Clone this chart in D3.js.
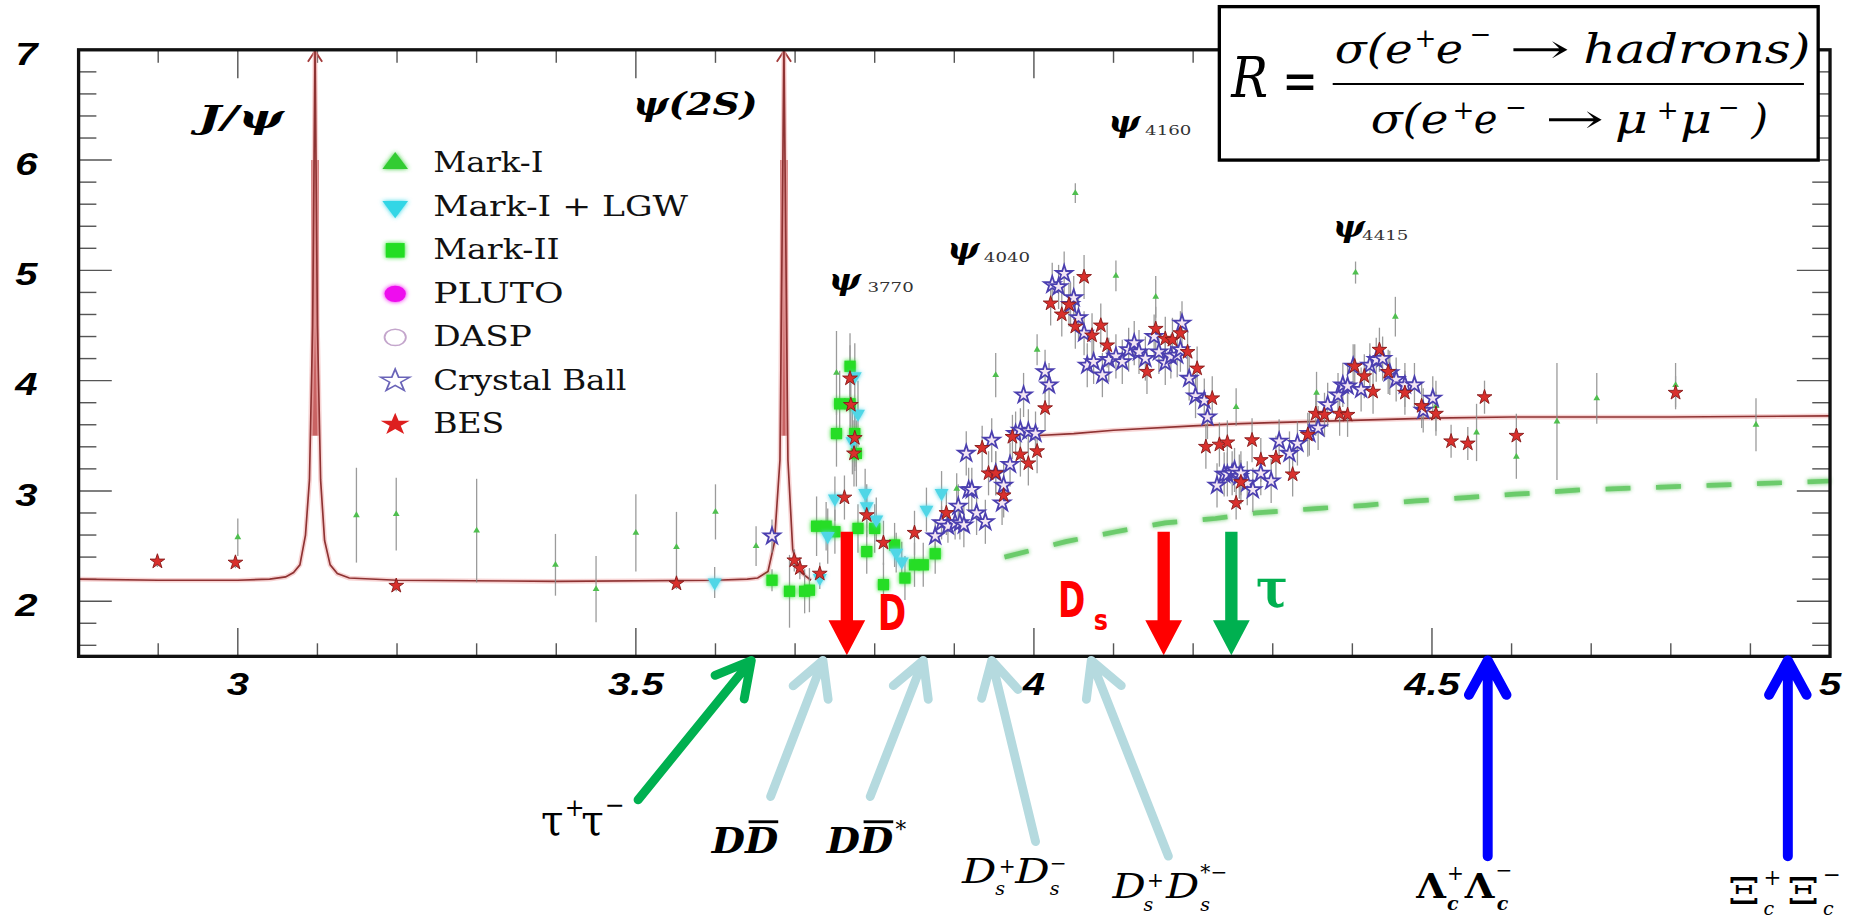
<!DOCTYPE html>
<html>
<head>
<meta charset="utf-8">
<script src="https://cdn.jsdelivr.net/npm/d3@7"></script>
<style>
html, body { margin: 0; padding: 0; background: #fff; overflow: hidden; }
</style>
</head>
<body>
<div id="chart"></div>
<script>
// ---- data (E in GeV, R) ----
const xTickLabels = [3, 3.5, 4, 4.5, 5];
const yTickLabels = [2, 3, 4, 5, 6, 7];

// theory curve, below and above the open charm region
const curveLow = [[2.80,2.20],[2.90,2.19],[3.00,2.19],[3.04,2.20],[3.06,2.22],[3.07,2.26],[3.078,2.33],[3.085,2.60],
  [3.090,3.10],[3.094,4.50],[3.097,7.00],[3.100,4.50],[3.104,3.10],[3.109,2.55],[3.116,2.33],[3.125,2.25],
  [3.14,2.21],[3.20,2.19],[3.40,2.18],[3.60,2.19],[3.64,2.20],[3.653,2.21],[3.666,2.27],[3.674,2.53],
  [3.681,3.28],[3.686,7.00],[3.691,3.28],[3.697,2.47],[3.704,2.28],[3.720,2.19]];
const curveHigh = [[4.00,3.50],[4.05,3.52],[4.10,3.55],[4.20,3.59],[4.26,3.61],[4.30,3.62],[4.40,3.64],
  [4.50,3.66],[4.60,3.67],[4.70,3.67],[4.80,3.67],[5.00,3.68]];
const peakE = [3.097, 3.686];
const peakBand = [3.5, 6.0];

// parton level expectation (dashed)
const dashLow = [[2.80,2.00],[3.67,2.00]];
const dashHigh = [[3.963,2.40],[4.04,2.54],[4.103,2.63],[4.165,2.71],[4.228,2.75],[4.279,2.80],[4.354,2.84],
  [4.417,2.87],[4.48,2.91],[4.543,2.94],[4.604,2.97],[4.689,3.01],[4.848,3.05],[5.00,3.09]];

// [E, R, error]
const markI = [[3.0,2.58,0.17],[3.149,2.78,0.43],[3.199,2.79,0.33],[3.30,2.64,0.47],[3.399,2.33,0.28],
  [3.45,2.11,0.30],[3.50,2.62,0.35],[3.551,2.49,0.32],[3.600,2.81,0.25],[3.651,2.50,0.18],[3.752,4.07,0.38],
  [3.903,3.02,0.14],[3.952,4.05,0.20],[4.004,4.28,0.14],[4.052,5.70,0.09],[4.103,4.95,0.14],[4.153,4.76,0.19],
  [4.254,3.76,0.17],[4.355,3.89,0.19],[4.404,4.98,0.10],[4.454,4.58,0.18],[4.505,3.77,0.23],[4.556,3.53,0.26],
  [4.606,3.31,0.20],[4.657,3.63,0.53],[4.707,3.84,0.23],[4.806,3.96,0.20],[4.907,3.60,0.24]];

const markILGW = [[3.599,2.17,0.14],[3.731,2.21,0.10],[3.741,2.59,0.25],[3.750,2.93,0.20],[3.772,3.45,0.30],
  [3.775,4.04,0.30],[3.779,3.70,0.30],[3.788,2.98,0.22],[3.790,2.86,0.20],[3.802,2.74,0.20],[3.827,2.44,0.18],
  [3.834,2.36,0.18],[3.865,2.83,0.20],[3.884,2.98,0.20]];

const markII = [[3.671,2.19,0.10],[3.693,2.09,0.33],[3.712,2.09,0.20],[3.718,2.10,0.20],[3.727,2.68,0.27],
  [3.739,2.68,0.22],[3.750,2.63,0.20],[3.752,3.52,0.30],[3.756,3.79,0.30],[3.769,4.13,0.30],[3.769,3.79,0.30],
  [3.775,3.52,0.30],[3.777,3.34,0.30],[3.779,2.66,0.22],[3.790,2.45,0.20],[3.800,2.66,0.22],[3.811,2.15,0.20],
  [3.825,2.51,0.20],[3.838,2.21,0.20],[3.850,2.33,0.20],[3.861,2.33,0.20],[3.876,2.43,0.18]];

const crystalBall = [[3.671,2.59,0.15],[3.876,2.59,0.15],[3.884,2.71,0.15],[3.892,2.68,0.15],[3.901,2.71,0.15],
  [3.905,2.86,0.20],[3.907,2.71,0.15],[3.912,2.69,0.20],[3.915,3.34,0.20],[3.918,3.01,0.20],[3.922,3.01,0.20],
  [3.928,2.80,0.20],[3.939,2.72,0.20],[3.947,3.46,0.20],[3.952,3.16,0.20],[3.960,2.89,0.20],[3.962,3.05,0.20],
  [3.970,3.24,0.20],[3.977,3.52,0.20],[3.983,3.55,0.20],[3.987,3.87,0.20],[3.993,3.54,0.20],[4.002,3.52,0.20],
  [4.014,4.08,0.20],[4.019,3.96,0.20],[4.023,4.87,0.20],[4.031,4.85,0.20],[4.038,4.97,0.20],[4.046,4.69,0.20],
  [4.050,4.75,0.20],[4.056,4.57,0.20],[4.063,4.43,0.20],[4.067,4.14,0.20],[4.075,4.17,0.20],[4.086,4.05,0.20],
  [4.094,4.19,0.20],[4.103,4.22,0.20],[4.111,4.17,0.20],[4.119,4.28,0.20],[4.126,4.34,0.20],[4.132,4.26,0.20],
  [4.140,4.20,0.20],[4.151,4.40,0.20],[4.157,4.26,0.20],[4.165,4.16,0.20],[4.172,4.22,0.20],[4.180,4.23,0.20],
  [4.184,4.28,0.20],[4.186,4.52,0.20],[4.195,4.02,0.20],[4.203,3.86,0.20],[4.214,3.82,0.20],[4.218,3.67,0.20],
  [4.230,3.05,0.20],[4.239,3.15,0.20],[4.243,3.15,0.20],[4.249,3.16,0.20],[4.252,3.19,0.20],[4.258,3.13,0.20],
  [4.260,3.16,0.20],[4.268,3.07,0.20],[4.275,3.01,0.20],[4.285,3.16,0.20],[4.298,3.09,0.20],[4.308,3.45,0.20],
  [4.321,3.34,0.20],[4.331,3.43,0.20],[4.346,3.52,0.20],[4.357,3.57,0.20],[4.369,3.78,0.20],[4.382,3.87,0.20],
  [4.388,3.96,0.20],[4.394,3.95,0.20],[4.401,4.13,0.20],[4.411,3.92,0.20],[4.422,4.14,0.20],[4.430,4.19,0.20],
  [4.438,4.20,0.20],[4.447,4.07,0.20],[4.455,4.01,0.20],[4.466,3.96,0.20],[4.478,3.96,0.20],[4.489,3.73,0.20],
  [4.501,3.84,0.20]];

const bes = [[2.899,2.36,0.05],[2.997,2.35,0.05],[3.199,2.14,0.05],[3.551,2.16,0.05],[3.699,2.37,0.10],
  [3.706,2.30,0.10],[3.731,2.25,0.10],[3.762,2.94,0.20],[3.769,4.02,0.30],[3.770,3.78,0.30],[3.775,3.48,0.30],
  [3.774,3.34,0.30],[3.790,2.78,0.20],[3.811,2.53,0.20],[3.850,2.62,0.20],[3.890,2.80,0.20],[3.935,3.39,0.20],
  [3.943,3.16,0.20],[3.952,3.16,0.20],[3.962,2.96,0.20],[3.973,3.49,0.20],[3.983,3.33,0.20],[3.993,3.25,0.20],
  [4.004,3.36,0.20],[4.014,3.75,0.20],[4.021,4.70,0.20],[4.035,4.60,0.20],[4.044,4.69,0.20],[4.052,4.49,0.20],
  [4.063,4.94,0.20],[4.073,4.41,0.20],[4.084,4.50,0.20],[4.092,4.32,0.20],[4.142,4.08,0.20],[4.153,4.47,0.20],
  [4.165,4.38,0.20],[4.174,4.37,0.20],[4.184,4.43,0.20],[4.193,4.26,0.20],[4.205,4.11,0.20],[4.216,3.40,0.20],
  [4.224,3.84,0.20],[4.233,3.42,0.20],[4.243,3.44,0.20],[4.254,2.89,0.15],[4.260,3.08,0.20],[4.274,3.46,0.20],
  [4.285,3.28,0.20],[4.304,3.30,0.20],[4.325,3.15,0.20],[4.344,3.51,0.20],[4.354,3.70,0.20],[4.365,3.69,0.20],
  [4.384,3.70,0.20],[4.394,3.69,0.20],[4.403,4.13,0.20],[4.415,4.04,0.20],[4.426,3.90,0.20],[4.434,4.28,0.20],
  [4.445,4.08,0.20],[4.466,3.89,0.20],[4.487,3.77,0.20],[4.505,3.70,0.20],[4.524,3.45,0.15],[4.545,3.43,0.15],
  [4.566,3.85,0.15],[4.606,3.50,0.20],[4.806,3.89,0.15]];

const legendNames = ["Mark-I", "Mark-I + LGW", "Mark-II", "PLUTO", "DASP", "Crystal Ball", "BES"];
const psiSubs = ["3770", "4040", "4160", "4415"];

// thresholds marked with arrows
const downArrowE = [3.765, 4.163, 4.248];          // D, Ds, tau
const downArrowTop = 2.63;
const pairE = [3.645, 3.735, 3.861, 3.947, 4.072]; // tau+tau-, DD, DD*, DsDs, DsDs*
const baryonE = [4.570, 4.947];                    // Lambda_c, Xi_c

// ---- drawing (viewBox in the picture's own units) ----
const svg = d3.select("#chart").append("svg")
  .attr("width", 1860).attr("height", 919)
  .attr("viewBox", "0 0 1568 775")
  .style("display", "block");

const defs = svg.append("defs");
const glow = defs.append("filter").attr("id", "glow").attr("x", "-50%").attr("y", "-50%").attr("width", "200%").attr("height", "200%");
glow.append("feGaussianBlur").attr("stdDeviation", 1.8).attr("result", "b");
const gm = glow.append("feMerge");
gm.append("feMergeNode").attr("in", "b");
gm.append("feMergeNode").attr("in", "SourceGraphic");

const x = d3.scaleLinear().domain([2.8, 5]).range([66, 1543]);
const y = d3.scaleLinear().domain([1.5, 7]).range([553.5, 42]);
const X0 = x(2.8), X1 = x(5), Y0 = y(1.5), Y1 = y(7);

const SERIF = "DejaVu Serif, Liberation Serif, serif";
const SANS = "Liberation Sans, Arial, sans-serif";

// ticks
const ticks = svg.append("g").attr("stroke", "#555").attr("stroke-width", 1.2);
d3.range(28, 51).map(d => d / 10).forEach(v => {
  const len = (Math.round(v * 10) % 5 === 0) ? 24 : 11;
  ticks.append("line").attr("x1", x(v)).attr("x2", x(v)).attr("y1", Y0).attr("y2", Y0 - len);
  ticks.append("line").attr("x1", x(v)).attr("x2", x(v)).attr("y1", Y1).attr("y2", Y1 + len);
});
d3.range(16, 71, 2).map(d => d / 10).forEach(v => {
  const len = (Math.round(v * 10) % 10 === 0) ? 28 : 15;
  ticks.append("line").attr("x1", X0).attr("x2", X0 + len).attr("y1", y(v)).attr("y2", y(v));
  ticks.append("line").attr("x1", X1).attr("x2", X1 - len).attr("y1", y(v)).attr("y2", y(v));
});

// tick labels (the plot is stretched sideways, so are its texts)
svg.append("g").selectAll("text").data(xTickLabels).enter().append("text")
  .attr("transform", d => `translate(${x(d)},586) scale(1.25,1)`)
  .attr("text-anchor", "middle")
  .attr("font-family", SANS).attr("font-weight", "bold").attr("font-style", "italic").attr("font-size", 27)
  .text(d => d);
svg.append("g").selectAll("text").data(yTickLabels).enter().append("text")
  .attr("transform", d => `translate(22,${y(d) + 12.5}) scale(1.25,1)`)
  .attr("text-anchor", "middle")
  .attr("font-family", SANS).attr("font-weight", "bold").attr("font-style", "italic").attr("font-size", 27)
  .text(d => d);

// dashed expectation
const line = d3.line().x(d => x(d[0])).y(d => y(d[1]));
[dashLow, dashHigh].forEach(seg => {
  svg.append("path").attr("d", line(seg)).attr("fill", "none")
    .attr("stroke", "#5cc65c").attr("stroke-width", 4).attr("stroke-dasharray", "21,21.6")
    .attr("opacity", 0.9).attr("filter", "url(#glow)");
});

// theory curve
const curves = svg.append("g");
peakE.forEach(e => {
  curves.append("line").attr("x1", x(e)).attr("x2", x(e)).attr("y1", y(peakBand[1])).attr("y2", y(7))
    .attr("stroke", "#d46a6a").attr("stroke-width", 2.4);
  curves.append("line").attr("x1", x(e)).attr("x2", x(e)).attr("y1", y(peakBand[0])).attr("y2", y(peakBand[1]))
    .attr("stroke", "#c96363").attr("stroke-width", 6.5);
  curves.append("path").attr("d", `M${x(e) - 6},${y(7) + 10}L${x(e)},${y(7) + 1}L${x(e) + 6},${y(7) + 10}`)
    .attr("fill", "none").attr("stroke", "#a33b3b").attr("stroke-width", 1.6);
});
[curveLow, curveHigh].forEach(seg => {
  curves.append("path").attr("d", line(seg)).attr("fill", "none")
    .attr("stroke", "#f2b6b6").attr("stroke-width", 4).attr("opacity", 0.6);
  curves.append("path").attr("d", line(seg)).attr("fill", "none")
    .attr("stroke", "#8e3232").attr("stroke-width", 1.4);
});

// error bars
const allPts = [].concat(markI, markILGW, markII, crystalBall, bes);
svg.append("g").attr("stroke", "#8a8a8a").attr("stroke-width", 1.1).attr("opacity", 0.85)
  .selectAll("line").data(allPts).enter().append("line")
  .attr("x1", d => x(d[0])).attr("x2", d => x(d[0]))
  .attr("y1", d => y(d[1] - d[2])).attr("y2", d => y(d[1] + d[2]));

// markers
function drawSeries(data, sym, size, fill, stroke, sw, filt, rot) {
  const g = svg.append("g");
  if (filt) g.attr("filter", "url(#glow)");
  g.selectAll("path").data(data).enter().append("path")
    .attr("d", d3.symbol().type(sym).size(size))
    .attr("transform", d => `translate(${x(d[0])},${y(d[1])}) rotate(${rot || 0})`)
    .attr("fill", fill).attr("stroke", stroke).attr("stroke-width", sw);
}
drawSeries(markI, d3.symbolTriangle, 14, "#4fbf4f", "none", 0, false);
drawSeries(markII, d3.symbolSquare, 90, "#26dd26", "none", 0, true);
drawSeries(markILGW, d3.symbolTriangle, 60, "#4fd6e6", "none", 0, true, 180);
drawSeries(crystalBall, d3.symbolStar, 60, "#f3e6f3", "#4b3fb0", 1.5, false);
drawSeries(bes, d3.symbolStar, 48, "#d9302c", "#8a1c1c", 0.8, false);

// resonance labels
function label(tx, ty, str, size, len) {
  const t = svg.append("text").attr("x", tx).attr("y", ty)
    .attr("font-family", SERIF).attr("font-size", size)
    .attr("font-style", "italic").attr("font-weight", "bold").text(str);
  if (len) t.attr("textLength", len).attr("lengthAdjust", "spacingAndGlyphs");
  return t;
}
label(167, 108, "J/\u03C8", 26, 72);
label(533.5, 97, "\u03C8(2S)", 27, 105);
const psiPos = [[698.6, 244.7, 731.3, 246], [798.5, 218, 829.4, 220.7], [934.3, 111, 965.4, 113.8], [1123.6, 199.7, 1148.4, 202.4]];
psiSubs.forEach((s, i) => {
  const p = psiPos[i];
  label(p[0], p[1], "\u03C8", 25, 27);
  svg.append("text").attr("x", p[2]).attr("y", p[3])
    .attr("font-family", SERIF).attr("font-size", 11).attr("fill", "#333")
    .attr("textLength", 39).attr("lengthAdjust", "spacingAndGlyphs").text(s);
});

// legend
const legend = svg.append("g");
const legendSym = [
  { t: d3.symbolTriangle, s: 120, fill: "#33cc33", stroke: "none", rot: 0 },
  { t: d3.symbolTriangle, s: 120, fill: "#33d6e6", stroke: "none", rot: 180 },
  { t: d3.symbolSquare, s: 150, fill: "#22dd22", stroke: "none", rot: 0 },
  { t: d3.symbolCircle, s: 150, fill: "#ee11ee", stroke: "none", rot: 0 },
  { t: d3.symbolCircle, s: 150, fill: "none", stroke: "#c4a6cc", rot: 0 },
  { t: d3.symbolStar, s: 110, fill: "none", stroke: "#6a64b8", rot: 0 },
  { t: d3.symbolStar, s: 110, fill: "#dd1f1f", stroke: "none", rot: 0 }
];
const legendW = [93, 215, 106.7, 110, 83.3, 163, 60];
legendNames.forEach((n, i) => {
  const cy = 137.7 + i * 36.7;
  const m = legendSym[i];
  legend.append("path").attr("d", d3.symbol().type(m.t).size(m.s))
    .attr("transform", `translate(333,${cy}) scale(1.3,1) rotate(${m.rot})`)
    .attr("fill", m.fill).attr("stroke", m.stroke).attr("stroke-width", 1.2)
    .attr("filter", i < 4 ? "url(#glow)" : null);
  legend.append("text").attr("x", 365).attr("y", cy + 7.5)
    .attr("textLength", legendW[i]).attr("lengthAdjust", "spacingAndGlyphs")
    .attr("font-family", SERIF).attr("font-size", 24).attr("fill", "#111").text(n);
});

// filled threshold arrows inside the frame
const arrowCol = ["#ff0000", "#ff0000", "#00b050"];
downArrowE.forEach((e, i) => {
  const cx = x(e), top = y(downArrowTop), tip = Y0 - 1, hh = 29.5, hw = 15.5, sw = 5.2;
  svg.append("path")
    .attr("d", `M${cx - sw},${top}L${cx + sw},${top}L${cx + sw},${tip - hh}L${cx + hw},${tip - hh}L${cx},${tip}L${cx - hw},${tip - hh}L${cx - sw},${tip - hh}Z`)
    .attr("fill", arrowCol[i]);
});
const COMIC = "DejaVu Sans, Verdana, sans-serif";
svg.append("text").attr("x", 740).attr("y", 531).attr("textLength", 24).attr("lengthAdjust", "spacingAndGlyphs")
  .attr("font-family", COMIC).attr("font-weight", "bold").attr("font-size", 42).attr("fill", "#ff0000").text("D");
svg.append("text").attr("x", 892).attr("y", 520).attr("textLength", 23).attr("lengthAdjust", "spacingAndGlyphs")
  .attr("font-family", COMIC).attr("font-weight", "bold").attr("font-size", 42).attr("fill", "#ff0000").text("D");
svg.append("text").attr("x", 922).attr("y", 531).attr("textLength", 12).attr("lengthAdjust", "spacingAndGlyphs")
  .attr("font-family", COMIC).attr("font-weight", "bold").attr("font-size", 24).attr("fill", "#ff0000").text("s");
svg.append("text").attr("x", 1059).attr("y", 512).attr("textLength", 27).attr("lengthAdjust", "spacingAndGlyphs")
  .attr("font-family", SERIF).attr("font-weight", "bold").attr("font-size", 46).attr("fill", "#00b050").text("\u03C4");

// frame
svg.append("rect").attr("x", X0).attr("y", Y1).attr("width", X1 - X0).attr("height", Y0 - Y1)
  .attr("fill", "none").attr("stroke", "#111").attr("stroke-width", 2.8);

// open arrows below the axis
function openArrow(x1, y1, x2, y2, col, w) {
  const a = Math.atan2(y2 - y1, x2 - x1), L = 33, da = 0.5;
  const p1 = [x2 - L * Math.cos(a - da), y2 - L * Math.sin(a - da)];
  const p2 = [x2 - L * Math.cos(a + da), y2 - L * Math.sin(a + da)];
  svg.append("path")
    .attr("d", `M${x1},${y1}L${x2},${y2}M${p1[0]},${p1[1]}L${x2},${y2}L${p2[0]},${p2[1]}`)
    .attr("fill", "none").attr("stroke", col).attr("stroke-width", w)
    .attr("stroke-linecap", "round").attr("stroke-linejoin", "round");
}
const pairTail = [[537.8, 674.5], [649.6, 671.7], [733.6, 671.7], [873, 709.7], [985, 722]];
pairE.forEach((e, i) => {
  openArrow(pairTail[i][0], pairTail[i][1], x(e), 557, i === 0 ? "#00b050" : "#b5dadf", 7.5);
});
baryonE.forEach(e => openArrow(x(e), 722, x(e), 557, "#0000ff", 8.4));

// pair labels
function txt(tx, ty, s, size, style, weight, len) {
  const t = svg.append("text").attr("x", tx).attr("y", ty)
    .attr("font-family", SERIF).attr("font-size", size)
    .attr("font-style", style || "normal").attr("font-weight", weight || "normal").text(s);
  if (len) t.attr("textLength", len).attr("lengthAdjust", "spacingAndGlyphs");
  return t;
}
txt(456, 704, "\u03C4", 36, "normal", "normal", 19); txt(476, 688, "+", 20); txt(490, 704, "\u03C4", 36, "normal", "normal", 19); txt(510, 686, "\u2212", 20);
txt(600, 719.5, "DD", 30, "italic", "bold", 56);
svg.append("line").attr("x1", 631).attr("x2", 656).attr("y1", 693).attr("y2", 693).attr("stroke", "#000").attr("stroke-width", 2.4);
txt(697, 719.5, "DD", 30, "italic", "bold", 56); txt(755, 706, "*", 18);
svg.append("line").attr("x1", 728).attr("x2", 753).attr("y1", 693).attr("y2", 693).attr("stroke", "#000").attr("stroke-width", 2.4);
txt(811, 744.8, "D", 28, "italic", "normal", 29); txt(842, 736, "+", 17); txt(839, 755, "s", 16, "italic");
txt(856, 744.8, "D", 28, "italic", "normal", 29); txt(885, 734, "\u2212", 17); txt(885, 755, "s", 16, "italic");
txt(938, 757.4, "D", 28, "italic", "normal", 28); txt(967, 748, "+", 17); txt(964, 768, "s", 16, "italic");
txt(983, 757.4, "D", 28, "italic", "normal", 28); txt(1012, 741, "*\u2212", 17); txt(1012, 768, "s", 16, "italic");
txt(1194, 757.4, "\u039B", 29, "normal", "bold", 25); txt(1220, 742, "+", 17); txt(1220, 767, "c", 16, "italic", "bold");
txt(1235, 757.4, "\u039B", 29, "normal", "bold", 25); txt(1261, 740, "\u2212", 17); txt(1262, 767, "c", 16, "italic", "bold");
txt(1457, 762, "\u039E", 32, "normal", "normal", 27); txt(1487, 746, "+", 18); txt(1487, 772, "c", 16, "italic");
txt(1507, 762, "\u039E", 32, "normal", "normal", 27); txt(1537, 744, "\u2212", 18); txt(1537, 772, "c", 16, "italic");

// formula box
svg.append("rect").attr("x", 1028).attr("y", 5.6).attr("width", 505).attr("height", 129.4)
  .attr("fill", "#fff").attr("stroke", "#000").attr("stroke-width", 2.8);
function ftxt(tx, ty, s, size, italic, len) {
  return txt(tx, ty, s, size, italic ? "italic" : "normal", "normal", len);
}
ftxt(1038, 81.5, "R", 48, true, 31);
ftxt(1081, 84, "=", 48, false, 30);
svg.append("line").attr("x1", 1123.6).attr("x2", 1521).attr("y1", 70.8).attr("y2", 70.8).attr("stroke", "#000").attr("stroke-width", 1.8);
// numerator
ftxt(1125.4, 53.4, "\u03C3(e", 34, true, 65.6);
ftxt(1192.7, 39.5, "+", 22, false);
ftxt(1210.5, 53.4, "e", 34, true, 23);
ftxt(1239, 36, "\u2212", 22, false);
ftxt(1272.6, 53.4, "\u2192", 34, false, 51.4);
ftxt(1334.8, 53.4, "hadrons)", 34, true, 191.6);
// denominator
ftxt(1155.6, 112.4, "\u03C3(e", 34, true, 65.6);
ftxt(1224.7, 100.7, "+", 22, false);
ftxt(1242.5, 112.4, "e", 34, true, 20);
ftxt(1269, 98, "\u2212", 22, false);
ftxt(1302.7, 112.4, "\u2192", 34, false, 50);
ftxt(1361.4, 112.4, "\u03BC", 34, true, 28);
ftxt(1396.8, 100.7, "+", 22, false);
ftxt(1416.4, 112.4, "\u03BC", 34, true, 27);
ftxt(1448.3, 98, "\u2212", 22, false);
ftxt(1476.7, 112.4, ")", 34, true, 14);
</script>
</body>
</html>
